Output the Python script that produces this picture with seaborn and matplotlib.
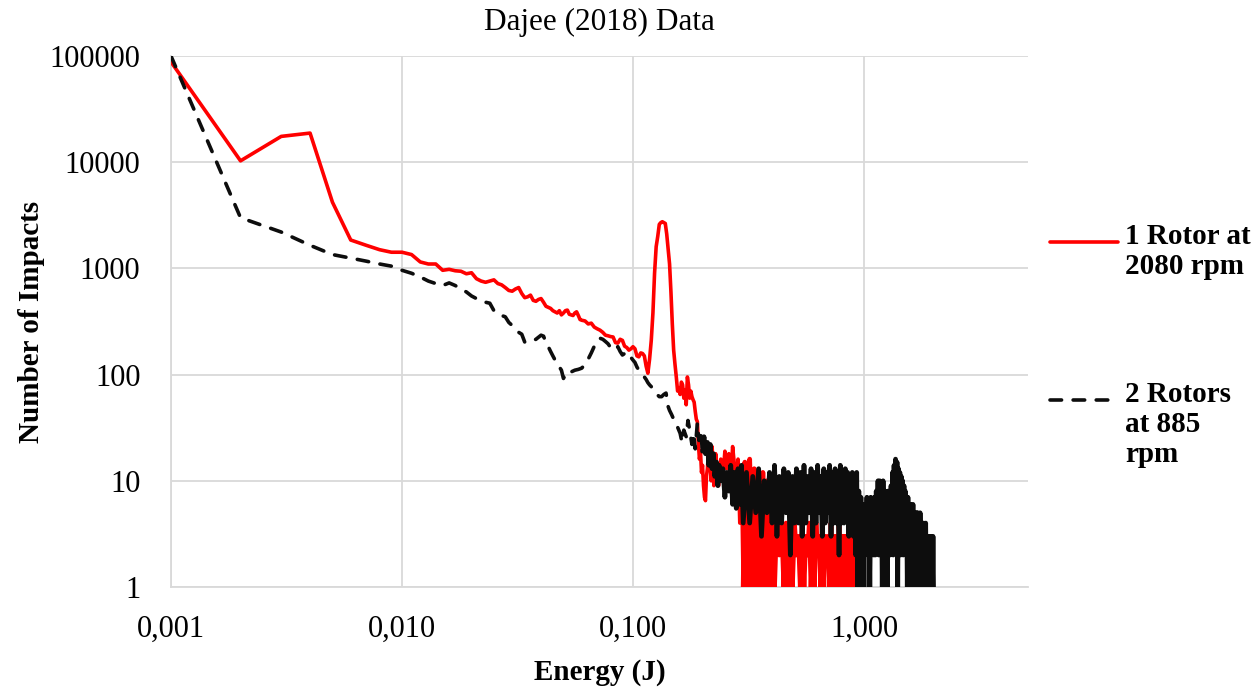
import numpy as np
import pandas as pd
import matplotlib
matplotlib.use("Agg")
import matplotlib.pyplot as plt
from matplotlib.lines import Line2D
from matplotlib.ticker import FixedLocator, FixedFormatter, NullLocator
import seaborn as sns

# ---------------- data ----------------
title = "Dajee (2018) Data"
x_label = "Energy (J)"
y_label = "Number of Impacts"
series_names = ["1 Rotor at\n2080 rpm", "2 Rotors\nat 885\nrpm"]
x_ticks = [0.001, 0.01, 0.1, 1.0]
x_tick_labels = ["0,001", "0,010", "0,100", "1,000"]
y_ticks = [1, 10, 100, 1000, 10000, 100000]
y_tick_labels = ["1", "10", "100", "1000", "10000", "100000"]

red_energy = [
    0.001, 0.002, 0.003, 0.004, 0.005, 0.006, 0.007, 0.008, 0.009, 0.010,
    0.011, 0.012, 0.013, 0.014, 0.015, 0.016, 0.017, 0.018, 0.019, 0.020,
    0.021, 0.022, 0.023, 0.024, 0.025, 0.026, 0.027, 0.028, 0.029, 0.030,
    0.031, 0.032, 0.033, 0.034, 0.035, 0.036, 0.037, 0.038, 0.039, 0.040,
    0.041, 0.042, 0.043, 0.044, 0.045, 0.046, 0.047, 0.048, 0.049, 0.050,
    0.051, 0.052, 0.053, 0.054, 0.055, 0.056, 0.057, 0.058, 0.059, 0.060,
    0.062, 0.064, 0.066, 0.068, 0.070, 0.072, 0.074, 0.076, 0.078, 0.080,
    0.082, 0.084, 0.086, 0.088, 0.090, 0.092, 0.094, 0.096, 0.098, 0.100,
    0.102, 0.104, 0.106, 0.108, 0.110, 0.112, 0.114, 0.116, 0.118, 0.120,
    0.122, 0.124, 0.126, 0.128, 0.130, 0.132, 0.134, 0.136, 0.138, 0.140,
    0.142, 0.144, 0.146, 0.148, 0.150, 0.152, 0.154, 0.156, 0.158, 0.160,
    0.162, 0.164, 0.166, 0.168, 0.170, 0.172, 0.174, 0.176, 0.178, 0.180,
    0.182, 0.184, 0.186, 0.188, 0.190, 0.192, 0.194, 0.196, 0.198, 0.200,
    0.202, 0.204, 0.206, 0.208, 0.210, 0.212, 0.214, 0.216, 0.218, 0.220,
    0.222, 0.224, 0.226, 0.228, 0.230, 0.235, 0.240, 0.245, 0.250, 0.255,
    0.260, 0.265, 0.270, 0.275, 0.280, 0.285, 0.290, 0.295, 0.300, 0.305,
    0.310, 0.315, 0.320, 0.325, 0.330, 0.335, 0.340, 0.345, 0.350, 0.355,
    0.360, 0.365, 0.370, 0.375, 0.380,
    0.39, 0.40, 0.41, 0.42, 0.43, 0.44, 0.45, 0.46, 0.47, 0.48,
    0.49, 0.50, 0.51, 0.52, 0.53, 0.54, 0.55, 0.56, 0.57, 0.58,
    0.59, 0.60, 0.61, 0.62, 0.63, 0.64, 0.65, 0.66, 0.67, 0.68,
    0.69, 0.70, 0.71, 0.72, 0.73, 0.74, 0.75, 0.76, 0.77, 0.78,
    0.79, 0.80, 0.81, 0.82, 0.83, 0.84, 0.85, 0.86, 0.87, 0.88,
    0.89, 0.90, 0.91, 0.92, 0.93, 0.94, 0.95,
]
red_count = [
    88000, 10300, 17500, 18800, 4200, 1850, 1650, 1500, 1420, 1420,
    1350, 1150, 1100, 1100, 960, 980, 950, 940, 890, 910,
    800, 760, 740, 760, 780, 720, 700, 660, 620, 610,
    640, 660, 580, 530, 540, 560, 500, 490, 510, 520,
    480, 440, 430, 420, 400, 390, 380, 400, 365, 380,
    400, 405, 370, 365, 360, 380, 390, 360, 330, 325,
    320, 300, 305, 280, 270, 262, 250, 235, 232, 228,
    226, 200, 198, 215, 210, 185, 180, 170, 175, 183,
    175, 150, 147, 160, 158, 150, 120, 103, 140, 210,
    380, 900, 1600, 2000, 2600, 2700, 2750, 2700, 2650, 2100,
    1500, 1100, 600, 300, 170, 125, 95, 70, 75, 65,
    85, 80, 60, 72, 52, 95, 80, 60, 70, 62,
    58, 55, 45, 38, 36, 22, 16, 19, 12, 14,
    9, 7, 6.5, 11, 13, 18, 20, 14, 10, 21,
    15, 9, 12, 18, 14, 9, 16, 11, 19, 13,
    18, 10, 21, 14, 9, 16, 4, 12, 1, 15,
    7, 1, 16, 5, 1, 13, 3, 1, 9, 2,
    1, 12, 3, 1, 10,
    1, 4, 1, 5, 2, 4, 1, 4, 1, 4,
    1, 4, 2, 3, 1, 4, 1, 3, 2, 4,
    1, 3, 1, 4, 2, 3, 1, 4, 1, 3,
    2, 3, 1, 4, 1, 3, 2, 3, 1, 4,
    1, 3, 2, 3, 1, 3, 1, 3, 2, 3,
    1, 3, 1, 3, 2, 3, 1,
]

black_energy = [
    0.001, 0.002, 0.003, 0.004, 0.005, 0.006, 0.007, 0.008, 0.009, 0.010,
    0.011, 0.012, 0.013, 0.014, 0.015, 0.016, 0.017, 0.018, 0.019, 0.020,
    0.021, 0.022, 0.023, 0.024, 0.025, 0.026, 0.027, 0.028, 0.029, 0.030,
    0.031, 0.032, 0.033, 0.034, 0.035, 0.036, 0.037, 0.038, 0.039, 0.040,
    0.041, 0.042, 0.043, 0.044, 0.045, 0.046, 0.047, 0.048, 0.049, 0.050,
    0.051, 0.052, 0.053, 0.054, 0.056, 0.058, 0.060, 0.062, 0.064, 0.066,
    0.068, 0.070, 0.072, 0.074, 0.076, 0.078, 0.080, 0.082, 0.084, 0.086,
    0.088, 0.090, 0.092, 0.094, 0.096, 0.098, 0.100, 0.102, 0.104, 0.106,
    0.108, 0.110, 0.112, 0.114, 0.116, 0.118, 0.120, 0.122, 0.125, 0.128,
    0.130, 0.133, 0.136, 0.139, 0.142, 0.144, 0.147, 0.150, 0.153, 0.156,
    0.160, 0.163, 0.166, 0.170, 0.173, 0.176, 0.180, 0.183, 0.186, 0.190,
    0.193, 0.196, 0.200, 0.203, 0.206, 0.210, 0.213, 0.216, 0.220, 0.223,
    0.226, 0.230, 0.233, 0.236, 0.240, 0.245, 0.250, 0.255, 0.260, 0.265,
    0.270, 0.275, 0.280, 0.285, 0.290, 0.295, 0.300,
    0.31, 0.32, 0.33, 0.34, 0.35, 0.36, 0.37, 0.38, 0.39, 0.40,
    0.41, 0.42, 0.43, 0.44, 0.45, 0.46, 0.47, 0.48, 0.49, 0.50,
    0.51, 0.52, 0.53, 0.54, 0.55, 0.56, 0.57, 0.58, 0.59, 0.60,
    0.61, 0.62, 0.63, 0.64, 0.65, 0.66, 0.67, 0.68, 0.69, 0.70,
    0.71, 0.72, 0.73, 0.74, 0.75, 0.76, 0.77, 0.78, 0.79, 0.80,
    0.81, 0.82, 0.83, 0.84, 0.85, 0.86, 0.87, 0.88, 0.89, 0.90,
    0.91, 0.92, 0.93, 0.94, 0.95, 0.96, 0.97, 0.98, 0.99, 1.00,
    1.01, 1.02, 1.03, 1.04, 1.05, 1.06, 1.07, 1.08, 1.09, 1.10,
    1.11, 1.12, 1.13, 1.14, 1.15, 1.16, 1.17, 1.18, 1.19, 1.20,
    1.21, 1.22, 1.23, 1.24, 1.25, 1.26, 1.27, 1.28, 1.29, 1.30,
    1.31, 1.32, 1.33, 1.34, 1.35, 1.36, 1.37, 1.38, 1.39, 1.40,
    1.41, 1.42, 1.43, 1.44, 1.45, 1.46, 1.47, 1.48, 1.49, 1.50,
    1.51, 1.52, 1.53, 1.54, 1.55, 1.56, 1.57, 1.58, 1.59, 1.60,
    1.61, 1.62, 1.63, 1.64, 1.65, 1.66, 1.67, 1.68, 1.69, 1.70,
    1.71, 1.72, 1.73, 1.74, 1.75, 1.76, 1.77, 1.78, 1.79, 1.80,
    1.81, 1.82, 1.83, 1.84, 1.85, 1.86, 1.87, 1.88, 1.89, 1.90,
    1.91, 1.92, 1.93, 1.94, 1.95, 1.96, 1.97, 1.98, 1.99, 2.00,
]
black_count = [
    100000, 3000, 2200, 1650, 1350, 1250, 1170, 1100, 1050, 960,
    900, 830, 760, 720, 690, 730, 690, 640, 600, 550,
    520, 500, 480, 470, 400, 380, 360, 350, 310, 290,
    270, 250, 240, 202, 205, 205, 210, 215, 225, 235,
    230, 200, 183, 165, 150, 137, 125, 118, 110, 92,
    100, 106, 104, 106, 110, 112, 115, 125, 140, 160,
    185, 198, 220, 215, 205, 195, 180, 170, 178, 183,
    165, 153, 158, 162, 160, 145, 137, 130, 118, 110,
    105, 100, 95, 90, 84, 80, 77, 72, 68, 64,
    62, 62, 65, 67, 50, 46, 42, 38, 35, 32,
    28, 23, 30, 26, 37, 30, 22, 28, 20, 35,
    24, 30, 19, 26, 18, 23, 14, 22, 13, 18,
    11, 15, 9, 14, 10, 13, 7, 12, 8, 14,
    6, 12, 5.5, 13, 6, 14, 4,
    12, 4, 11, 5, 13, 3, 10, 5, 12, 4,
    14, 3, 11, 4, 13, 5, 12, 2, 11, 4,
    13, 4, 12, 3, 14, 4, 11, 5, 13, 3,
    12, 4, 14, 5, 11, 3, 13, 4, 12, 5,
    14, 3, 12, 4, 13, 4, 11, 2, 14, 4,
    12, 4, 13, 5, 12, 3, 11, 4, 12, 3,
    11, 2, 12, 1, 8, 2, 7, 1, 6, 1,
    6, 3, 7, 2, 6, 1, 7, 3, 6, 2,
    7, 2, 8, 3, 10, 2, 10, 4, 9, 1,
    10, 3, 8, 2, 7, 1, 8, 3, 7, 2,
    9, 3, 12, 2, 14, 4, 16, 3, 15, 1,
    13, 3, 12, 2, 11, 4, 10, 2, 9, 3,
    8, 2, 7, 1, 7, 3, 6, 2, 6, 1,
    5, 2, 6, 1, 5, 2, 5, 3, 5, 1,
    5, 2, 4, 1, 5, 2, 4, 1, 4, 2,
    4, 1, 3, 2, 4, 1, 3, 1, 3, 2,
    3, 1, 3, 2, 3, 1, 2, 1, 3, 1,
]

# ---------------- styling ----------------
sns.set_theme(style="whitegrid")
plt.rcParams["font.family"] = ["Liberation Serif", "DejaVu Serif"]
plt.rcParams["text.color"] = "black"

W, H = 1258, 688
fig = plt.figure(figsize=(W / 100, H / 100), dpi=100)
ax = fig.add_axes([171 / W, 1 - 587 / H, (1028 - 171) / W, (587 - 56) / H])

red_df = pd.DataFrame({"energy": red_energy, "count": red_count})
black_df = pd.DataFrame({"energy": black_energy, "count": black_count})

RED = "#ff0000"
BLACK = "#0d0d0d"
DASH = (0, (3.2, 3.2))
LW = 2.6
LW_DENSE = 3.4

# red: smooth part, then the dense noisy tail (many overlapping points -> solid ink)
red_smooth = red_df[red_df["energy"] <= 0.3]
red_dense = red_df[red_df["energy"] >= 0.3]
sns.lineplot(data=red_smooth, x="energy", y="count", ax=ax, color=RED,
             linewidth=LW, estimator=None, sort=False, zorder=3)
sns.lineplot(data=red_dense, x="energy", y="count", ax=ax, color=RED,
             linewidth=LW_DENSE, estimator=None, sort=False, zorder=3)

# black: the smooth part shows its dashes, the dense noisy part renders solid
smooth = black_df[black_df["energy"] <= 0.2]
dense = black_df[black_df["energy"] >= 0.2]
sns.lineplot(data=smooth, x="energy", y="count", ax=ax, color=BLACK,
             linewidth=LW, estimator=None, sort=False, zorder=4,
             linestyle=DASH, dash_capstyle="round")
sns.lineplot(data=dense, x="energy", y="count", ax=ax, color=BLACK,
             linewidth=LW_DENSE, estimator=None, sort=False, zorder=4,
             solid_capstyle="round")

ax.set_xscale("log")
ax.set_yscale("log")
ax.set_xlim(0.001, 5.13)
ax.set_ylim(1, 100000)

ax.xaxis.set_major_locator(FixedLocator(x_ticks))
ax.xaxis.set_major_formatter(FixedFormatter(x_tick_labels))
ax.xaxis.set_minor_locator(NullLocator())
ax.yaxis.set_major_locator(FixedLocator(y_ticks))
ax.yaxis.set_major_formatter(FixedFormatter(y_tick_labels))
ax.yaxis.set_minor_locator(NullLocator())

ax.grid(True, which="major", color="#d9d9d9", linewidth=1.3)
ax.set_facecolor("white")
for s in ["top", "right"]:
    ax.spines[s].set_visible(False)
for s in ["left", "bottom"]:
    ax.spines[s].set_color("#d9d9d9")
    ax.spines[s].set_linewidth(1.3)
ax.tick_params(axis="both", length=0, labelsize=22, colors="black")
ax.tick_params(axis="x", pad=20)
ax.tick_params(axis="y", pad=22)

ax.set_title(title, fontsize=22.5, pad=19, color="black")
ax.set_xlabel(x_label, fontsize=21, fontweight="bold", labelpad=11, color="black")
ax.set_ylabel(y_label, fontsize=21, fontweight="bold", labelpad=3, color="black")

# legend drawn at right side
leg_colors = [RED, BLACK]
leg_styles = ["-", DASH]
leg_y = [242, 400]
for name, c, ls, yy in zip(series_names, leg_colors, leg_styles, leg_y):
    fig.add_artist(Line2D([1050 / W, 1118 / W], [1 - yy / H, 1 - yy / H],
                          color=c, linewidth=LW, linestyle=ls,
                          dash_capstyle="round", transform=fig.transFigure))
    fig.text(1125 / W, 1 - (yy - 19) / H, name, fontsize=21, fontweight="bold",
             va="top", ha="left", linespacing=1.15)

fig.savefig("out.png", dpi=100, facecolor="white")
